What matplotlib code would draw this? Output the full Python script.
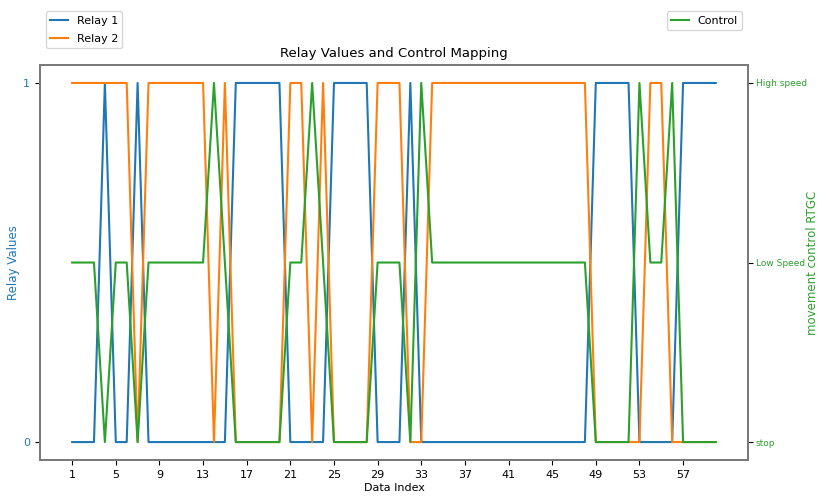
import matplotlib
matplotlib.use('Agg')
import numpy as np
import matplotlib.pyplot as plt

# data index 1..60
idx = np.arange(1, 61)

relay1 = [0, 0, 0, 1, 0, 0, 1, 0, 0, 0,
          0, 0, 0, 0, 0, 1, 1, 1, 1, 1,
          0, 0, 0, 0, 1, 1, 1, 1, 0, 0,
          0, 1, 0, 0, 0, 0, 0, 0, 0, 0,
          0, 0, 0, 0, 0, 0, 0, 0, 1, 1,
          1, 1, 0, 0, 0, 0, 1, 1, 1, 1]

relay2 = [1, 1, 1, 1, 1, 1, 0, 1, 1, 1,
          1, 1, 1, 0, 1, 0, 0, 0, 0, 0,
          1, 1, 0, 1, 0, 0, 0, 0, 1, 1,
          1, 0, 0, 1, 1, 1, 1, 1, 1, 1,
          1, 1, 1, 1, 1, 1, 1, 1, 0, 0,
          0, 0, 0, 1, 1, 0, 0, 0, 0, 0]

# 0 = stop, 1 = Low Speed, 2 = High speed
control = [1, 1, 1, 0, 1, 1, 0, 1, 1, 1,
           1, 1, 1, 2, 1, 0, 0, 0, 0, 0,
           1, 1, 2, 1, 0, 0, 0, 0, 1, 1,
           1, 0, 2, 1, 1, 1, 1, 1, 1, 1,
           1, 1, 1, 1, 1, 1, 1, 1, 0, 0,
           0, 0, 2, 1, 1, 2, 0, 0, 0, 0]
control_labels = ['stop', 'Low Speed', 'High speed']

fig = plt.figure(figsize=(8.19, 4.97), dpi=100)
ax1 = fig.add_axes([0.0488, 0.0744, 0.8645, 0.7948])
ax1.plot(idx, relay1, color='tab:blue', label='Relay 1')
ax1.plot(idx, relay2, color='tab:orange', label='Relay 2')
ax1.set_yticks([0, 1])
ax1.tick_params(axis='y', labelcolor='tab:blue', labelsize=8)
ax1.set_ylabel('Relay Values', color='tab:blue', fontsize=8.5, labelpad=2)
ax1.set_xticks(np.arange(1, 61, 4))
ax1.tick_params(axis='x', labelsize=8)
ax1.set_xlabel('Data Index', fontsize=8, labelpad=2)
ax1.set_title('Relay Values and Control Mapping', fontsize=9.5)

ax2 = ax1.twinx()
ax2.plot(idx, control, color='tab:green', label='Control')
ax2.set_yticks([0, 1, 2])
ax2.set_yticklabels(control_labels)
ax2.tick_params(axis='y', labelcolor='tab:green', labelsize=6.5, pad=2)
ax2.set_ylabel('movement control RTGC', color='tab:green', fontsize=8.5)
ax2.yaxis.set_label_coords(1.0825, 0.5)

for a in (ax1, ax2):
    for s in a.spines.values():
        s.set_color('#777777')
        s.set_linewidth(1.2)

ax1.legend(loc='upper left', bbox_to_anchor=(0, 1.15), fontsize=8,
           labelspacing=0.7, handlelength=1.6)
ax2.legend(loc='upper right', bbox_to_anchor=(1, 1.15), fontsize=8,
           handlelength=1.6)

fig.savefig('out.png', dpi=100)
